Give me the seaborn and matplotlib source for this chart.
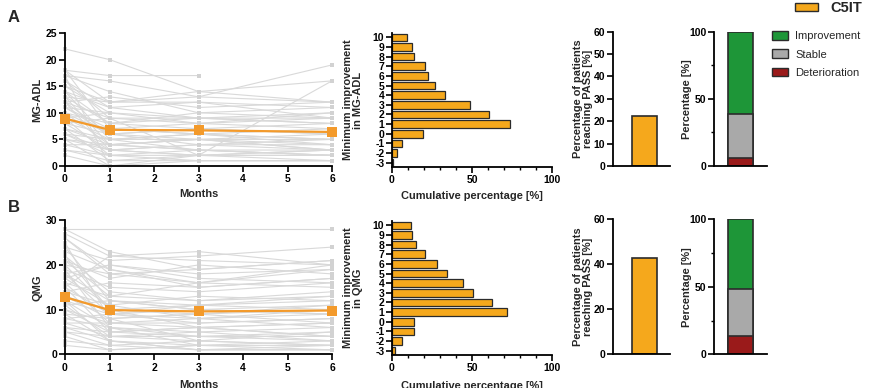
import numpy as np
import pandas as pd
import matplotlib
matplotlib.use("Agg")
import matplotlib.pyplot as plt
from matplotlib.patches import Patch
import seaborn as sns

# Visitas (meses)
months = [0, 1, 3, 6]

# MG-ADL por paciente: [mes 0, mes 1, mes 3, mes 6], nan = sin dato
nan = np.nan
adl_patients = [
    [22, 20, 14, 12], [18, 17, 17, nan], [18, 12, 13, 19], [17, 16, 13, 12],
    [17, 14, 10, 11], [16, 9, 2, 16], [15, 12, 14, 16], [15, 10, 8, 9],
    [14, 5, 3, 2], [14, 11, 9, 10], [13, 8, 7, 6], [13, 12, 12, 11],
    [12, 6, 5, 4], [12, 9, 9, 8], [12, 3, 2, 3], [11, 7, 8, 7],
    [11, 10, nan, nan], [10, 4, 5, 3], [10, 8, 10, 9], [10, 6, 4, 5],
    [9, 7, 6, 7], [9, 2, 3, 2], [9, 5, 6, 4], [8, 6, 7, 6],
    [8, 3, 4, 3], [8, 9, 8, 10], [7, 4, 3, 2], [7, 5, 5, 6],
    [7, 1, 1, 1], [6, 3, 2, 2], [6, 5, 6, 5], [6, 2, nan, nan],
    [5, 4, 3, 3], [5, 0, 1, 1], [5, 3, 4, 4], [4, 2, 2, 1],
    [4, 4, 5, 3], [3, 1, 2, 2], [3, 2, 1, 1], [2, 0, nan, nan],
    [18, 7, 6, 5], [17, 0, 2, 3], [13, 4, 5, 5], [16, 11, 12, 9],
    [12, 13, 11, 12], [14, 8, 9, 8], [11, 6, 7, 8], [9, 10, 9, 9],
]
adl_mean = [8.9, 6.8, 6.7, 6.4]

# QMG por paciente
qmg_patients = [
    [28, nan, nan, 28], [28, 23, 19, 21], [27, 22, 23, 20], [26, 19, 16, 19],
    [25, 8, 3, 5], [24, 21, 22, 24], [23, 19, 15, 17], [22, 14, 12, 13],
    [21, 13, 16, 20], [20, 18, 19, 21], [20, 10, 9, 11], [19, 6, 2, 3],
    [19, 15, 14, 16], [18, 12, 11, 10], [18, 9, 7, 8], [17, 20, 18, 19],
    [17, 11, 13, 12], [16, 7, 6, 7], [16, 13, 12, 14], [15, 9, 10, 9],
    [15, 5, 4, 3], [14, 11, 8, 10], [14, 16, 15, 17], [13, 8, 9, 7],
    [13, 10, 11, 12], [12, 6, 5, 6], [12, 9, 8, 9], [11, 4, 3, 2],
    [11, 12, 10, 11], [10, 7, 7, 8], [10, 5, 6, 4], [9, 8, 9, 10],
    [9, 3, 2, 2], [8, 6, 4, 5], [8, 9, 11, 13], [7, 4, 5, 3],
    [7, 7, 8, 6], [6, 3, 1, 1], [6, 5, 6, 7], [5, 2, 3, 2],
    [5, 4, 4, 4], [4, 1, 2, 1], [3, 2, 1, 1], [2, 1, 2, nan],
    [24, 12, 10, 9], [26, 18, 16, 15], [21, 17, 20, 18], [22, 10, 6, 4],
    [15, 22, 21, 20], [18, 20, 17, 16], [12, 3, 1, 2],
]
qmg_mean = [12.8, 9.9, 9.6, 9.8]

# Mejora mínima vs porcentaje acumulado
improvement = ["10", "9", "8", "7", "6", "5", "4", "3", "2", "1", "0", "-1", "-2", "-3"]
adl_cum = [9.4, 12.7, 13.8, 20.6, 22.3, 26.9, 33.3, 48.5, 60.4, 73.5, 19.2, 6.0, 2.9, 0.8]
qmg_cum = [11.7, 12.7, 14.8, 20.4, 28.1, 34.4, 44.4, 50.6, 62.7, 71.7, 13.8, 13.8, 6.0, 1.7]

# PASS
pass_adl = 22.5
pass_qmg = 43.0

# Mejora / estable / deterioro [%]
status = ["Improvement", "Stable", "Deterioration"]
adl_status = [61.3, 32.7, 6.0]
qmg_status = [51.7, 34.8, 13.5]

ORANGE = "#F5A81C"
LINE_OR = "#F39A2B"
GREEN = "#1E9638"
GREY = "#A9A9A9"
RED = "#9A1A1A"
EDGE = "#2b2b2b"

sns.set_theme(style="ticks")
plt.rcParams["font.family"] = ["Liberation Sans", "DejaVu Sans"]
plt.rcParams["font.weight"] = "bold"
plt.rcParams["axes.labelweight"] = "bold"
plt.rcParams["axes.linewidth"] = 1.3
plt.rcParams["xtick.major.width"] = 1.2
plt.rcParams["ytick.major.width"] = 1.2
plt.rcParams["xtick.minor.width"] = 1.0
plt.rcParams["ytick.minor.width"] = 1.0
plt.rcParams["xtick.major.size"] = 4
plt.rcParams["ytick.major.size"] = 4
plt.rcParams["xtick.minor.size"] = 2.5
plt.rcParams["ytick.minor.size"] = 2.5
plt.rcParams["xtick.major.pad"] = 2
plt.rcParams["ytick.major.pad"] = 1.5
plt.rcParams["xtick.labelsize"] = 7.5
plt.rcParams["ytick.labelsize"] = 7.5
plt.rcParams["axes.labelsize"] = 7.9
plt.rcParams["xtick.color"] = "black"
plt.rcParams["ytick.color"] = "black"
plt.rcParams["axes.edgecolor"] = "black"

W, H = 870, 388
fig = plt.figure(figsize=(W / 100, H / 100), dpi=100)


def px_axes(x0, x1, y_top, y_bot):
    return fig.add_axes([x0 / W, 1 - y_bot / H, (x1 - x0) / W, (y_bot - y_top) / H])


def spaghetti(ax, patients, mean, ymax, yticks, ylabel, xlab_y):
    rows = []
    for pid, vals in enumerate(patients):
        for m, v in zip(months, vals):
            rows.append({"patient": pid, "month": m, "score": v})
    df = pd.DataFrame(rows).dropna()
    sns.lineplot(data=df, x="month", y="score", units="patient", estimator=None,
                 color="#D9D9D9", lw=0.8, marker="s", markersize=3.2,
                 markeredgewidth=0, markerfacecolor="#D2D2D2", ax=ax,
                 legend=False, clip_on=False)
    sns.lineplot(x=months, y=mean, color=LINE_OR, lw=1.6, marker="s", markersize=7,
                 markeredgewidth=0, ax=ax, clip_on=False, zorder=5)
    ax.set_xlim(0, 6)
    ax.set_ylim(0, ymax)
    ax.set_xticks(range(7))
    ax.set_yticks(yticks)
    ax.set_xlabel("Months", va="top")
    ax.set_ylabel(ylabel)
    ax.xaxis.set_label_coords(0.5, xlab_y)
    ax.yaxis.set_label_coords(-0.086, 0.5)
    sns.despine(ax=ax)


def cumulative(ax, vals, ylabel, xlab_y):
    sns.barplot(x=vals, y=improvement, order=improvement, color=ORANGE,
                edgecolor=EDGE, linewidth=0.9, width=0.78, orient="h", ax=ax,
                saturation=1)
    ax.set_xlim(0, 100)
    ax.set_ylim(13.45, -0.45)
    ax.set_xticks([0, 50, 100])
    ax.set_xticks(range(0, 101, 10), minor=True)
    ax.set_xlabel("Cumulative percentage [%]", va="top")
    ax.set_ylabel(ylabel, linespacing=1.0)
    ax.xaxis.set_label_coords(0.5, xlab_y)
    ax.yaxis.set_label_coords(-0.181, 0.5)
    sns.despine(ax=ax)


def pass_bar(ax, val, yticks):
    sns.barplot(x=["C5IT"], y=[val], color=ORANGE, edgecolor=EDGE, linewidth=1.2,
                width=0.48, ax=ax, saturation=1)
    ax.set_xlim(-0.6, 0.5)
    ax.set_ylim(0, 60)
    ax.set_yticks(yticks)
    ax.set_xticks([])
    ax.set_xlabel("")
    ax.set_ylabel("Percentage of patients\nreaching PASS [%]", linespacing=1.0)
    ax.yaxis.set_label_coords(-0.35, 0.5)
    sns.despine(ax=ax)


def stacked(ax, parts):
    impr, stab, det = parts
    for h, c in [(impr + stab + det, GREEN), (stab + det, GREY), (det, RED)]:
        sns.barplot(x=["C5IT"], y=[h], color=c, edgecolor=EDGE, linewidth=1.2,
                    width=0.47, ax=ax, saturation=1)
    ax.set_xlim(-0.5, 0.5)
    ax.set_ylim(0, 100)
    ax.set_yticks([0, 50, 100])
    ax.set_yticks([25, 75], minor=True)
    ax.set_xticks([])
    ax.set_xlabel("")
    ax.set_ylabel("Percentage [%]")
    ax.yaxis.set_label_coords(-0.415, 0.5)
    sns.despine(ax=ax)


# fila A
ax = px_axes(65, 332, 33, 166)
spaghetti(ax, adl_patients, adl_mean, 25, range(0, 26, 5), "MG-ADL", -0.17)
ax = px_axes(392, 552, 33, 167)
cumulative(ax, adl_cum, "Minimum improvement\nin MG-ADL", -0.18)
ax = px_axes(613, 670, 31.7, 166)
pass_bar(ax, pass_adl, range(0, 61, 10))
ax = px_axes(714, 767, 31.7, 166)
stacked(ax, adl_status)

# fila B
ax = px_axes(65, 332, 220.3, 354.3)
spaghetti(ax, qmg_patients, qmg_mean, 30, [0, 10, 20, 30], "QMG", -0.19)
ax = px_axes(392, 552, 221, 355)
cumulative(ax, qmg_cum, "Minimum improvement\nin QMG", -0.195)
ax = px_axes(613, 670, 219.3, 354.3)
pass_bar(ax, pass_qmg, [0, 20, 40, 60])
ax = px_axes(714, 767, 219.3, 354.3)
stacked(ax, qmg_status)

# letras de panel (C y D quedan cortadas en el borde inferior, como en el original)
fig.text(8 / W, 1 - 18 / H, "A", fontsize=12, fontweight="bold", va="center")
fig.text(8 / W, 1 - 207 / H, "B", fontsize=12, fontweight="bold", va="center")
fig.text(8 / W, 1 - 396 / H, "C", fontsize=12, fontweight="bold", va="center")
fig.text(335 / W, 1 - 396 / H, "D", fontsize=12, fontweight="bold", va="center")

# leyendas
fig.legend(handles=[Patch(facecolor=ORANGE, edgecolor=EDGE, lw=1.0)], labels=["C5IT"],
           loc="center left", bbox_to_anchor=(795 / W, 1 - 8.5 / H), frameon=False,
           borderpad=0, borderaxespad=0, handlelength=1.58, handleheight=0.5,
           handletextpad=0.82, prop={"weight": "bold", "size": 10.5})
fig.legend(handles=[Patch(facecolor=c, edgecolor=EDGE, lw=1.0) for c in [GREEN, GREY, RED]],
           labels=status, loc="upper left", bbox_to_anchor=(772 / W, 1 - 31 / H),
           frameon=False, borderpad=0, borderaxespad=0, handlelength=1.44,
           handleheight=0.8, handletextpad=0.63, labelspacing=0.75,
           prop={"weight": "normal", "size": 8})

fig.savefig("out.png", dpi=100)
